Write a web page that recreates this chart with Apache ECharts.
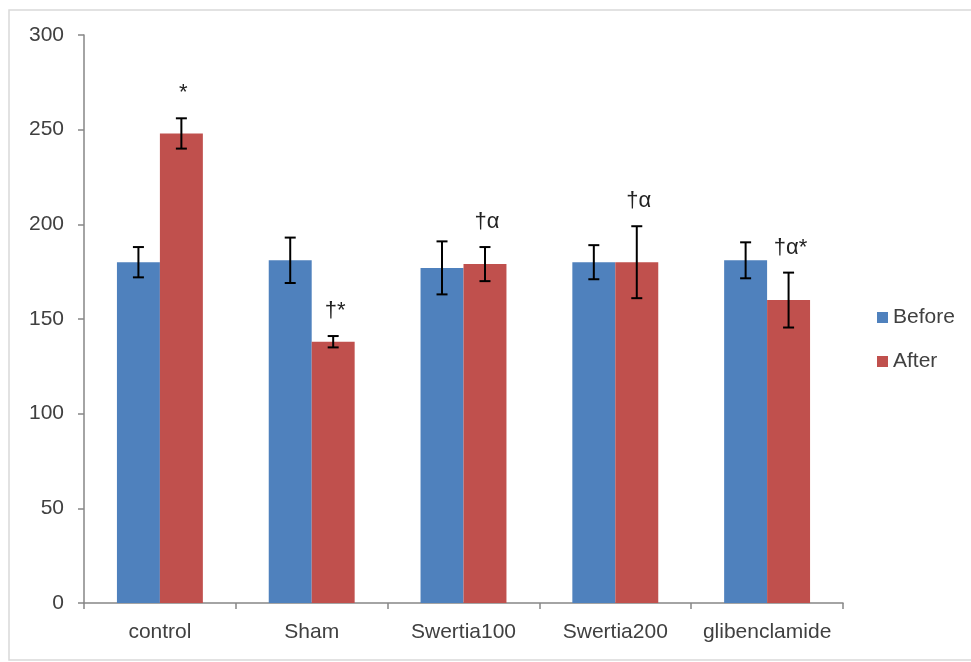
<!DOCTYPE html>
<html><head><meta charset="utf-8">
<script src="https://cdn.jsdelivr.net/npm/echarts@6/dist/echarts.min.js"></script>
<style>html,body{margin:0;padding:0;background:#fff}#c{width:971px;height:662px}</style>
</head><body><div id="c"></div>
<script>
const categories = ['control', 'Sham', 'Swertia100', 'Swertia200', 'glibenclamide'];
const beforeValues = [180, 181, 177, 180, 181];
const afterValues = [248, 138, 179, 180, 160];
const beforeErrors = [8, 12, 14, 9, 9.5];
const afterErrors = [8, 3, 9, 19, 14.5];
const annotations = ['*', '†*', '†α', '†α', '†α*'];
const yTickValues = [0, 50, 100, 150, 200, 250, 300];

const CAT_GAP = 0.434;
const FONT = '"Liberation Sans", Arial, sans-serif';
const TEXT_COLOR = '#404040';

const errData = [];
categories.forEach((c, i) => {
  errData.push([i, beforeValues[i], beforeErrors[i], 0, '']);
  errData.push([i, afterValues[i], afterErrors[i], 1, annotations[i]]);
});

function renderErr(params, api) {
  const idx = api.value(0), val = api.value(1), err = api.value(2), side = api.value(3);
  const label = errData[params.dataIndex][4];
  const band = api.size([1, 0])[0];
  const bw = band * (1 - CAT_GAP) / 2;
  const cx = api.coord([idx, val])[0] + (side === 0 ? -bw / 2 : bw / 2);
  const top = api.coord([idx, val + err])[1];
  const bot = api.coord([idx, val - err])[1];
  const hw = 5.5;
  const st = { stroke: '#000', lineWidth: 2 };
  const children = [
    { type: 'line', shape: { x1: cx, y1: top, x2: cx, y2: bot }, style: st },
    { type: 'line', shape: { x1: cx - hw, y1: top, x2: cx + hw, y2: top }, style: st },
    { type: 'line', shape: { x1: cx - hw, y1: bot, x2: cx + hw, y2: bot }, style: st }
  ];
  if (label) {
    children.push({
      type: 'text',
      style: { text: label, x: cx + 2, y: top - 25, align: 'center', verticalAlign: 'middle',
        fill: '#222', font: '22px ' + FONT }
    });
  }
  return { type: 'group', children };
}

const chart = echarts.init(document.getElementById('c'), null, { renderer: 'canvas' });
chart.setOption({
  animation: false,
  backgroundColor: '#fff',
  graphic: [{
    type: 'rect', shape: { x: 9, y: 10, width: 975, height: 650 },
    style: { fill: 'none', stroke: '#d9d9d9', lineWidth: 1.5 }, silent: true
  }],
  grid: { left: 84, right: 128, top: 35, bottom: 59 },
  legend: {
    orient: 'vertical', left: 872, top: 302,
    itemWidth: 11, itemHeight: 11, itemGap: 23,
    icon: 'rect',
    data: ['Before', 'After'],
    textStyle: { fontFamily: FONT, fontSize: 21, color: TEXT_COLOR }
  },
  xAxis: {
    type: 'category', data: categories,
    axisLine: { lineStyle: { color: '#868686', width: 1.5 } },
    axisTick: { show: true, interval: 0, length: 6, alignWithLabel: false, lineStyle: { color: '#868686', width: 1.5 } },
    axisLabel: { interval: 0, fontFamily: FONT, fontSize: 21, color: TEXT_COLOR, margin: 19 }
  },
  yAxis: {
    type: 'value', min: yTickValues[0], max: yTickValues[yTickValues.length - 1],
    interval: yTickValues[1] - yTickValues[0],
    splitLine: { show: false },
    axisLine: { show: true, lineStyle: { color: '#868686', width: 1.5 } },
    axisTick: { show: true, length: 6, lineStyle: { color: '#868686', width: 1.5 } },
    axisLabel: { fontFamily: FONT, fontSize: 21, color: TEXT_COLOR, margin: 20 }
  },
  series: [
    { name: 'Before', type: 'bar', data: beforeValues, barGap: '0%', barCategoryGap: (CAT_GAP * 100) + '%',
      itemStyle: { color: '#4F81BD' } },
    { name: 'After', type: 'bar', data: afterValues, barGap: '0%', barCategoryGap: (CAT_GAP * 100) + '%',
      itemStyle: { color: '#C0504D' } },
    { name: 'err', type: 'custom', data: errData, renderItem: renderErr,
      encode: { x: 0, y: 1 }, z: 10, silent: true }
  ]
});
</script></body></html>
